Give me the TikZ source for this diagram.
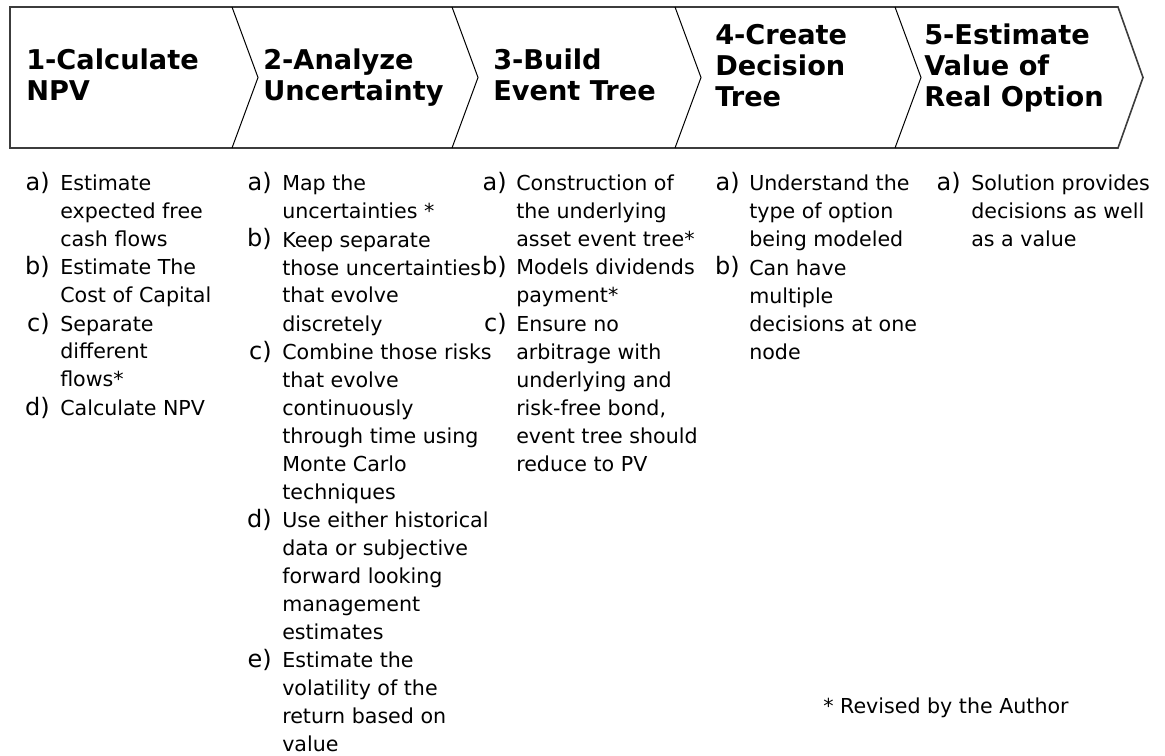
\documentclass[tikz,border=0pt]{standalone}
\usepackage{fontspec}
\setmainfont{DejaVu Sans}
\usetikzlibrary{positioning}
\definecolor{framegray}{RGB}{60,60,60}
\tikzset{
  frame/.style={draw=framegray,line width=1.2pt,line join=miter},
  divider/.style={draw=black,line width=.75pt,line join=miter},
  headtext/.style={
    font=\fontsize{20.4}{23.25}\selectfont\bfseries,
    align=left,
    anchor=base west,
    inner sep=0pt
  },
  itemlabel/.style={font=\fontsize{18}{21}\selectfont,anchor=base east,inner sep=0pt},
  itemtext/.style={font=\fontsize{15.45}{21}\selectfont,align=left,anchor=base west,inner sep=0pt},
  footnote/.style={font=\fontsize{15.45}{21}\selectfont,anchor=base west,inner sep=0pt}
}

\begin{document}
\begin{tikzpicture}[x=.75pt,y=-.75pt]
  \useasboundingbox (0,0) rectangle (1165,756);

  % process band
  \draw[frame] (10,7) -- (1118,7) -- (1143,77.5) -- (1118,148) -- (10,148) -- cycle;
  \foreach \xtop in {232,452,675,895}
    \draw[divider] (\xtop,7) -- ++(26,70.5) -- (\xtop,148);

  % text nodes are placed at the baseline of their last line
  \node[headtext] (head1) at (26,101) {1-Calculate\\NPV};
  \node[headtext] (head2) at (263,101) {2-Analyze\\Uncertainty};
  \node[headtext] (head3) at (493,101) {3-Build\\Event Tree};
  \node[headtext] (head4) at (715,107) {4-Create\\Decision\\Tree};
  \node[headtext] (head5) at (924,107) {5-Estimate\\Value of\\Real Option};

  % column 1
  \node[itemlabel] (l1a) at (50,191) {a)};
  \node[itemtext] (t1a) at (60,247) {Estimate\\expected free\\cash flows};
  \node[itemlabel] (l1b) at (50,275) {b)};
  \node[itemtext] (t1b) at (60,303) {Estimate The\\Cost of Capital};
  \node[itemlabel] (l1c) at (50,331) {c)};
  \node[itemtext] (t1c) at (60,387) {Separate\\different\\flows*};
  \node[itemlabel] (l1d) at (50,415) {d)};
  \node[itemtext] (t1d) at (60,415) {Calculate NPV};

  % column 2
  \node[itemlabel] (l2a) at (272,191) {a)};
  \node[itemtext] (t2a) at (282,219) {Map the\\uncertainties *};
  \node[itemlabel] (l2b) at (272,247) {b)};
  \node[itemtext] (t2b) at (282,331) {Keep separate\\those uncertainties\\that evolve\\discretely};
  \node[itemlabel] (l2c) at (272,359) {c)};
  \node[itemtext] (t2c) at (282,499) {Combine those risks\\that evolve\\continuously\\through time using\\Monte Carlo\\techniques};
  \node[itemlabel] (l2d) at (272,527) {d)};
  \node[itemtext] (t2d) at (282,639) {Use either historical\\data or subjective\\forward looking\\management\\estimates};
  \node[itemlabel] (l2e) at (272,667) {e)};
  \node[itemtext] (t2e) at (282,751) {Estimate the\\volatility of the\\return based on\\value};

  % column 3
  \node[itemlabel] (l3a) at (507,191) {a)};
  \node[itemtext] (t3a) at (516,247) {Construction of\\the underlying\\asset event tree*};
  \node[itemlabel] (l3b) at (507,275) {b)};
  \node[itemtext] (t3b) at (516,303) {Models dividends\\payment*};
  \node[itemlabel] (l3c) at (507,331) {c)};
  \node[itemtext] (t3c) at (516,471) {Ensure no\\arbitrage with\\underlying and\\risk-free bond,\\event tree should\\reduce to PV};

  % column 4
  \node[itemlabel] (l4a) at (740,191) {a)};
  \node[itemtext] (t4a) at (749,247) {Understand the\\type of option\\being modeled};
  \node[itemlabel] (l4b) at (740,275) {b)};
  \node[itemtext] (t4b) at (749,359) {Can have\\multiple\\decisions at one\\node};

  % column 5
  \node[itemlabel] (l5a) at (961,191) {a)};
  \node[itemtext] (t5a) at (971,247) {Solution provides\\decisions as well\\as a value};

  \node[footnote] (note) at (823,713) {* Revised by the Author};
\end{tikzpicture}
\end{document}
